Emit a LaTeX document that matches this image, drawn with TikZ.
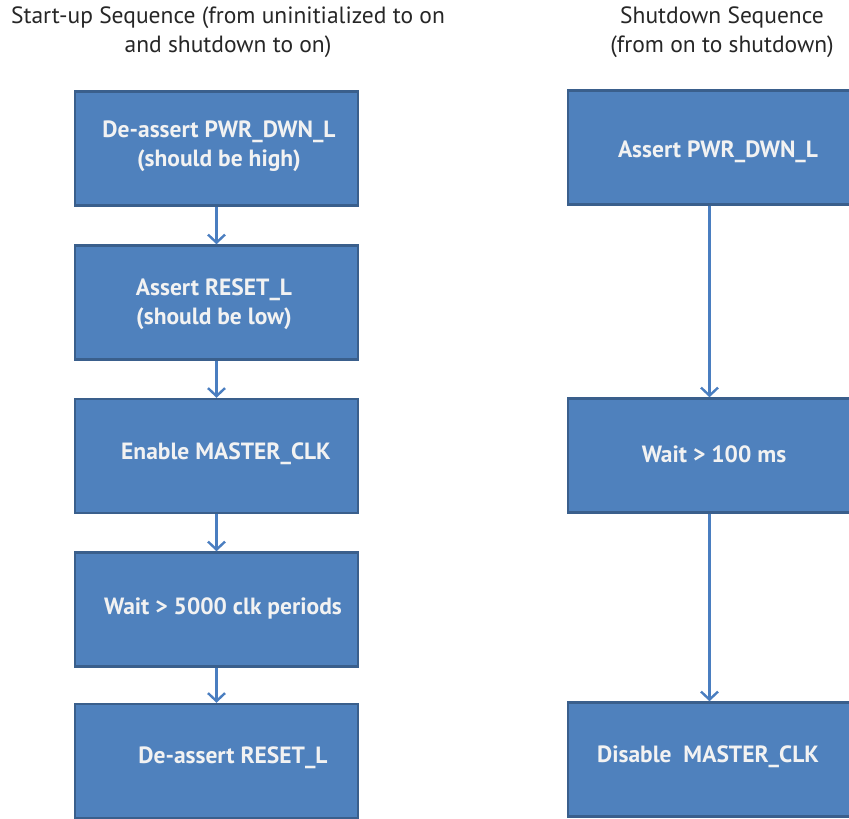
\documentclass[tikz,border=0pt]{standalone}
\usepackage{fontspec}
\setmainfont{PT Sans}
\usetikzlibrary{arrows.meta}
\definecolor{boxfill}{HTML}{4F81BD}
\definecolor{boxline}{HTML}{3A5F8C}
\definecolor{arrowc}{HTML}{4A7EC0}
\definecolor{boxtext}{HTML}{F2F2F2}
\tikzset{
  stepbox/.style={rectangle, draw=boxline, fill=boxfill, line width=2.5pt,
    minimum width=283pt, minimum height=114pt, inner sep=0pt},
  boxlabel/.style={text=boxtext, font=\fontsize{23.5}{28.5}\selectfont\bfseries, align=center, inner sep=0pt},
  title/.style={font=\fontsize{23.5}{29}\selectfont, align=center, inner sep=0pt, text=black!85},
  flow/.style={draw=arrowc, line width=2.2pt, -{Straight Barb[length=8pt,width=17pt,line width=2.4pt]}}
}
\begin{document}
\begin{tikzpicture}[x=1pt,y=-1pt]
\useasboundingbox (0,0) rectangle (849,819);
% titles
\node[title] (tl) at (228,32) {Start-up Sequence (from uninitialized to on\\and shutdown to on)};
\node[title] (tr) at (722,32) {Shutdown Sequence\\(from on to shutdown)};
% left column
\node[stepbox] (a1) at (216.5,148.5) {};
\node[stepbox] (a2) at (216.5,302.5) {};
\node[stepbox] (a3) at (216.5,456) {};
\node[stepbox] (a4) at (216.5,609.5) {};
\node[stepbox] (a5) at (216.5,761) {};
\node[boxlabel] (la1) at (219,146) {De-assert PWR\_DWN\_L\\(should be high)};
\node[boxlabel] (la2) at (214,304) {Assert RESET\_L\\(should be low)};
\node[boxlabel] (la3) at (226,454) {Enable MASTER\_CLK};
\node[boxlabel] (la4) at (223,608) {Wait > 5000 clk periods};
\node[boxlabel] (la5) at (233,758) {De-assert RESET\_L};
% right column
\node[stepbox] (b1) at (709.5,147.5) {};
\node[stepbox] (b2) at (709.5,455.5) {};
\node[stepbox] (b3) at (709.5,759.5) {};
\node[boxlabel] (lb1) at (718,152) {Assert PWR\_DWN\_L};
\node[boxlabel] (lb2) at (714,454) {Wait > 100 ms};
\node[boxlabel] (lb3) at (708,757) {Disable\ \ MASTER\_CLK};
% connectors
\draw[flow] (a1.south) -- (a2.north);
\draw[flow] (a2.south) -- (a3.north);
\draw[flow] (a3.south) -- (a4.north);
\draw[flow] (a4.south) -- (a5.north);
\draw[flow] (b1.south) -- (b2.north);
\draw[flow] (b2.south) -- (b3.north);
\end{tikzpicture}
\end{document}
